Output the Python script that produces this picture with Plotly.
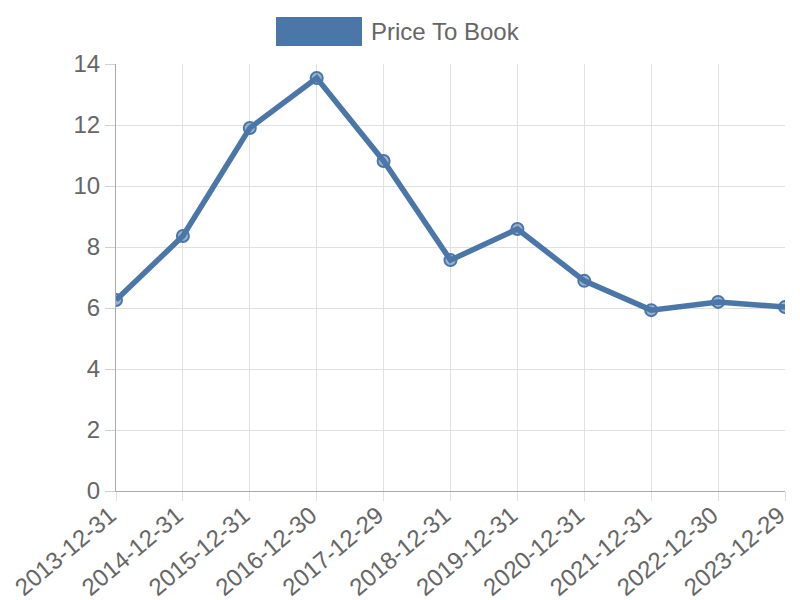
import plotly.graph_objects as go

dates = ['2013-12-31', '2014-12-31', '2015-12-31', '2016-12-30', '2017-12-29', '2018-12-31',
         '2019-12-31', '2020-12-31', '2021-12-31', '2022-12-30', '2023-12-29']
price_to_book = [6.26, 8.36, 11.9, 13.54, 10.82, 7.57, 8.59, 6.89, 5.93, 6.2, 6.03]

blue = '#4a76a8'
grey_text = '#666666'

# page body adds an 8px offset, so the figure is 792x592
W, H = 792, 592
L, R, T, B = 108, 15, 56, 109
pw, ph = W - L - R, H - T - B

fig = go.Figure()
fig.add_trace(go.Scatter(
    x=dates, y=price_to_book, mode='lines+markers', name='Price To Book',
    line=dict(color=blue, width=5.5),
    marker=dict(size=12, color='rgba(74,118,168,0.55)', line=dict(color=blue, width=2)),
    showlegend=False,
))

# legend drawn by hand (wide filled box like the original)
fig.add_shape(type='rect', xref='paper', yref='paper', x0=(268 - L) / pw, x1=(354 - L) / pw,
              y0=(H - B - 38) / ph, y1=(H - B - 9) / ph, fillcolor=blue, line=dict(width=0))
fig.add_annotation(text='Price To Book', xref='paper', yref='paper', x=(361 - L) / pw,
                   y=(H - B - 24) / ph, xanchor='left', yanchor='middle', showarrow=False,
                   font=dict(size=24, color=grey_text))

fig.update_layout(
    width=W, height=H,
    margin=dict(l=L, r=R, t=T, b=B),
    plot_bgcolor='white', paper_bgcolor='white',
    font=dict(family='Liberation Sans, Arial, sans-serif', size=24, color=grey_text),
)
fig.update_xaxes(
    type='category', range=[0, len(dates) - 1], automargin=False,
    showgrid=True, gridcolor='#e0e0e0', gridwidth=1,
    showline=True, linecolor='#aaaaaa', linewidth=1,
    ticks='outside', ticklen=9, tickcolor='#e0e0e0',
    tickangle=-40, tickfont=dict(size=24, color=grey_text),
    ticklabelstandoff=-9, ticklabelshift=-6,
)
fig.update_yaxes(
    range=[0, 14], dtick=2, automargin=False,
    showgrid=True, gridcolor='#e0e0e0', gridwidth=1,
    showline=True, linecolor='#aaaaaa', linewidth=1,
    ticks='outside', ticklen=10, tickcolor='#d0d0d0',
    zeroline=False, tickfont=dict(size=24, color=grey_text),
)

fig.write_html('out.html')
